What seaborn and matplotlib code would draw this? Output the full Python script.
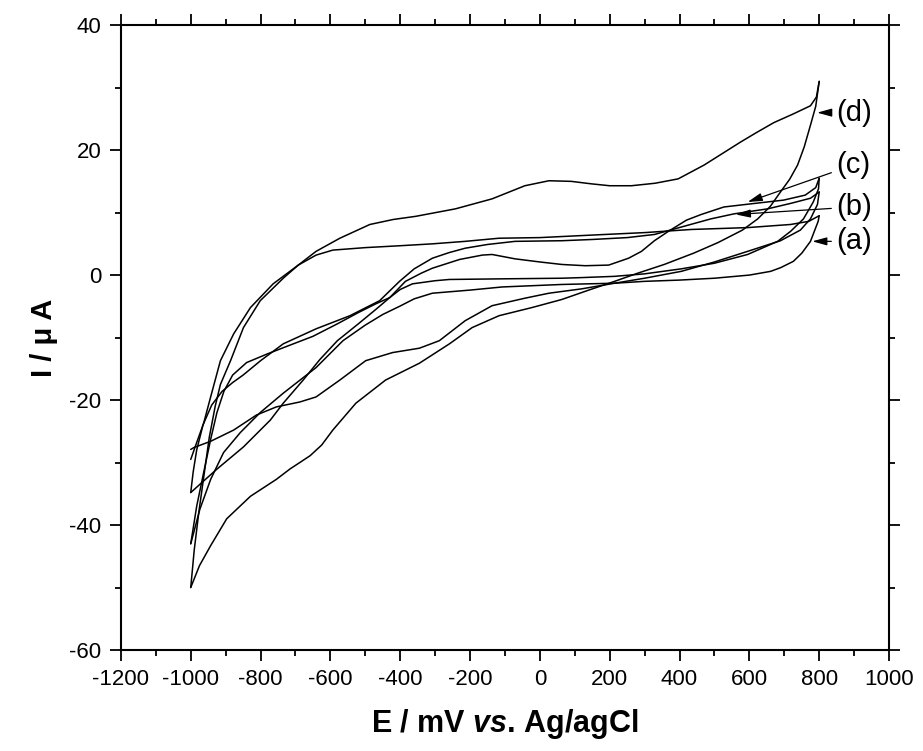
import numpy as np
import pandas as pd
import matplotlib
matplotlib.use('Agg')
import matplotlib.pyplot as plt
from matplotlib.ticker import MultipleLocator
import seaborn as sns

# potential (mV) / current (uA), forward and reverse branches
a_fwd_E = [-1000, -983, -963, -943, -915, -877, -829, -764, -692, -641, -593, -499, -400, -308, -214, -117, 0, 148, 300, 433, 595, 718, 770, 800]
a_fwd_I = [-29.5, -26.8, -23.7, -19.5, -13.7, -9.4, -5.2, -1.4, 1.6, 3.2, 4.0, 4.4, 4.7, 5.0, 5.4, 5.9, 6.0, 6.4, 6.8, 7.3, 7.6, 8.1, 8.6, 9.5]
a_rev_E = [800, 797, 775, 750, 726, 690, 661, 600, 500, 400, 300, 214, 63, -108, -200, -308, -360, -402, -450, -500, -564, -641, -735, -801, -858, -906, -943, -974, -1000]
a_rev_I = [9.5, 8.6, 5.4, 3.5, 2.2, 1.2, 0.6, 0.0, -0.5, -0.8, -1.0, -1.3, -1.5, -1.9, -2.4, -2.9, -3.8, -5.0, -6.3, -8.0, -10.5, -14.8, -18.9, -22.0, -25.2, -28.4, -32.7, -37.5, -43.0]

b_fwd_E = [-1000, -993, -983, -965, -940, -910, -880, -850, -800, -735, -641, -544, -459, -402, -360, -308, -260, -214, -150, -71, 63, 150, 250, 328, 425, 490, 556, 652, 720, 775, 800]
b_fwd_I = [-34.8, -31.5, -28.0, -24.0, -20.8, -18.6, -17.2, -16.0, -13.7, -11.0, -8.6, -6.5, -4.1, -1.0, 1.0, 2.7, 3.6, 4.3, 4.9, 5.4, 5.5, 5.7, 6.0, 6.5, 8.0, 9.0, 9.8, 10.6, 11.5, 12.3, 13.3]
b_rev_E = [800, 795, 775, 746, 689, 595, 500, 405, 300, 214, 120, 26, -43, -137, -214, -288, -345, -422, -499, -573, -641, -687, -755, -812, -877, -943, -991, -1000]
b_rev_I = [13.3, 11.3, 9.0, 7.2, 5.5, 3.8, 2.1, 0.6, -0.5, -1.3, -2.2, -2.9, -3.7, -4.9, -7.3, -10.5, -11.7, -12.4, -13.7, -16.8, -19.5, -20.3, -21.1, -22.4, -24.8, -26.6, -27.6, -27.9]

c_fwd_E = [-1000, -983, -963, -943, -925, -905, -880, -840, -780, -720, -650, -580, -520, -470, -430, -385, -340, -308, -230, -165, -137, -71, 0, 63, 130, 197, 254, 291, 328, 368, 420, 462, 527, 604, 698, 760, 790, 800]
c_fwd_I = [-43.0, -37.0, -31.6, -26.3, -22.0, -18.6, -16.0, -14.0, -12.6, -11.3, -9.8, -7.8, -6.0, -4.6, -3.6, -1.0, 0.3, 1.1, 2.5, 3.2, 3.3, 2.6, 2.1, 1.7, 1.5, 1.6, 2.7, 3.8, 5.5, 7.0, 8.8, 9.7, 10.9, 11.4, 12.0, 12.8, 14.0, 15.5]
c_rev_E = [800, 798, 783, 755, 718, 681, 595, 500, 405, 300, 214, 120, 63, -108, -259, -300, -365, -400, -430, -470, -520, -580, -630, -678, -735, -772, -849, -926, -1000]
c_rev_I = [15.5, 13.8, 11.7, 9.0, 7.0, 5.4, 3.3, 1.9, 1.0, 0.2, -0.2, -0.4, -0.5, -0.6, -0.7, -0.9, -1.4, -2.3, -3.6, -5.5, -7.8, -10.5, -13.5, -16.8, -20.5, -23.2, -27.5, -31.1, -34.8]

d_fwd_E = [-1000, -990, -977, -962, -947, -930, -915, -886, -849, -801, -735, -692, -641, -573, -487, -420, -356, -242, -137, -43, 26, 90, 148, 200, 262, 330, 396, 470, 575, 620, 670, 726, 775, 792, 800]
d_fwd_I = [-50.0, -44.0, -38.0, -32.0, -26.0, -21.0, -17.5, -13.7, -8.4, -4.1, -0.5, 1.6, 3.8, 5.9, 8.1, 8.9, 9.4, 10.6, 12.2, 14.3, 15.1, 15.0, 14.6, 14.3, 14.3, 14.7, 15.4, 17.6, 21.3, 22.8, 24.4, 25.8, 27.1, 28.5, 31.0]
d_rev_E = [800, 790, 775, 757, 738, 715, 689, 660, 624, 580, 510, 440, 356, 280, 214, 140, 63, -23, -117, -194, -259, -345, -442, -527, -593, -625, -658, -685, -715, -755, -829, -897, -943, -975, -1000]
d_rev_I = [31.0, 27.0, 24.0, 20.5, 17.6, 15.3, 13.3, 11.0, 9.0, 7.2, 5.2, 3.5, 1.7, 0.3, -1.0, -2.4, -3.9, -5.2, -6.5, -8.4, -11.0, -14.1, -16.8, -20.5, -24.8, -27.2, -28.9, -29.9, -31.0, -32.7, -35.4, -39.0, -43.3, -46.5, -50.0]

# curve labels: text, arrow head (E, I), text anchor (E, I)
labels = ['(a)', '(b)', '(c)', '(d)']
label_head = [(780, 5.4), (561, 9.7), (595, 11.7), (794, 26.0)]
label_text = [(848, 5.4), (848, 10.9), (848, 17.6), (848, 26.0)]

x_ticks = list(range(-1200, 1001, 200))
y_ticks = list(range(-60, 41, 20))


def main():
    sns.set_theme(style='ticks')
    plt.rcParams['font.family'] = ['Liberation Sans', 'DejaVu Sans']
    plt.rcParams['axes.unicode_minus'] = False
    plt.rcParams['text.color'] = 'black'
    plt.rcParams['axes.labelcolor'] = 'black'
    plt.rcParams['xtick.color'] = 'black'
    plt.rcParams['ytick.color'] = 'black'
    plt.rcParams['mathtext.fontset'] = 'custom'
    plt.rcParams['mathtext.rm'] = 'Liberation Sans'
    plt.rcParams['mathtext.bf'] = 'Liberation Sans:bold'
    plt.rcParams['mathtext.bfit'] = 'Liberation Sans:italic:bold'

    fig = plt.figure(figsize=(9.23, 7.51), dpi=100)
    ax = fig.add_axes([0.131, 0.1345, 0.8322, 0.832])

    branches = [(a_fwd_E, a_fwd_I), (a_rev_E, a_rev_I),
                (b_fwd_E, b_fwd_I), (b_rev_E, b_rev_I),
                (c_fwd_E, c_fwd_I), (c_rev_E, c_rev_I),
                (d_fwd_E, d_fwd_I), (d_rev_E, d_rev_I)]
    for E, I in branches:
        df = pd.DataFrame({'E': E, 'I': I})
        sns.lineplot(data=df, x='E', y='I', sort=False, estimator=None,
                     color='black', linewidth=1.1, ax=ax)

    for txt, head, pos in zip(labels, label_head, label_text):
        ax.annotate(txt, xy=head, xytext=pos, ha='left', va='center', fontsize=21,
                    color='black',
                    arrowprops=dict(arrowstyle='-|>,head_length=0.8,head_width=0.22',
                                    mutation_scale=11, color='black', lw=0.9,
                                    shrinkA=1, shrinkB=0))

    ax.set_xlim(-1200, 1000)
    ax.set_ylim(-60, 40)
    ax.set_xticks(x_ticks)
    ax.set_yticks(y_ticks)
    ax.set_xticklabels([str(t) for t in x_ticks])
    ax.set_yticklabels([str(t) for t in y_ticks])
    ax.xaxis.set_minor_locator(MultipleLocator(100))
    ax.yaxis.set_minor_locator(MultipleLocator(10))
    ax.tick_params(which='both', direction='out', top=True, right=True,
                   labeltop=False, labelright=False, color='black', width=1.3)
    ax.tick_params(which='major', length=8, labelsize=16, pad=6)
    ax.tick_params(which='minor', length=4.5)
    for side in ['left', 'right', 'top', 'bottom']:
        ax.spines[side].set_visible(True)
        ax.spines[side].set_linewidth(1.5)
        ax.spines[side].set_color('black')

    ax.set_xlabel(r'E / mV $\mathbfit{vs}$. Ag/agCl', fontsize=22, fontweight='bold', labelpad=12)
    ax.set_ylabel('I / μ A', fontsize=21, fontweight='bold', labelpad=8)

    fig.savefig('out.png', dpi=100, facecolor='white')


if __name__ == "__main__":
    main()
